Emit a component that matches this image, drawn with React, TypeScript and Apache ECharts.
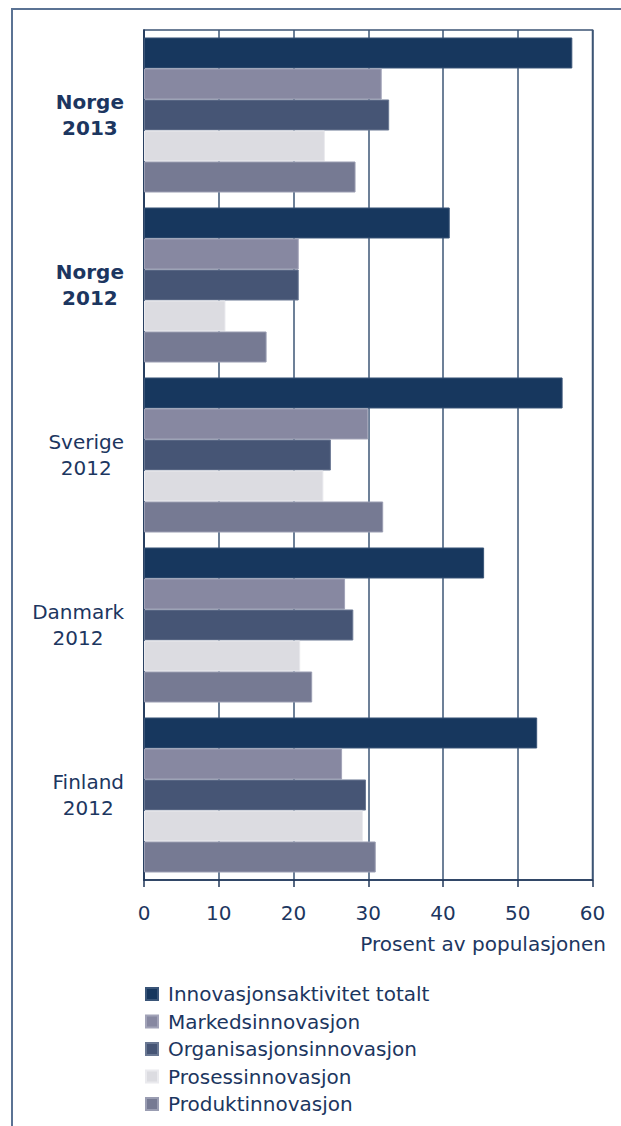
import React, { useEffect, useRef } from "react";
import * as echarts from "echarts";

const categories = ["Norge 2013", "Norge 2012", "Sverige 2012", "Danmark 2012", "Finland 2012"];
const seriesNames = [
  "Innovasjonsaktivitet totalt",
  "Markedsinnovasjon",
  "Organisasjonsinnovasjon",
  "Prosessinnovasjon",
  "Produktinnovasjon",
];
const totalt = [57.3, 40.9, 56.0, 45.5, 52.6];
const markeds = [31.8, 20.7, 30.0, 26.9, 26.5];
const organisasjon = [32.8, 20.7, 25.0, 28.0, 29.7];
const prosess = [24.2, 10.9, 24.0, 20.9, 29.3];
const produkt = [28.3, 16.4, 32.0, 22.5, 31.0];
const xTicks = [0, 10, 20, 30, 40, 50, 60];
const axisName = "Prosent av populasjonen";

const colors = ["#17375e", "#8788a1", "#465575", "#dcdce1", "#767a93"];
const borders = ["#3a5578", "#a2a3b8", "#6a7893", "#eaeaee", "#9a9db2"];
const textColor = "#1c3660";
const font = 'Verdana, "DejaVu Sans", sans-serif';

export default function App() {
  const ref = useRef<HTMLDivElement>(null);
  useEffect(() => {
    if (!ref.current) return;
    const chart = echarts.init(ref.current, null, { renderer: "svg" });
    const values = [totalt, markeds, organisasjon, prosess, produkt];
    chart.setOption({
      animation: false,
      textStyle: { fontFamily: font },
      grid: {
        left: 144,
        right: 28.5,
        top: 30,
        bottom: 246,
        show: true,
        borderColor: "#3d5474",
        borderWidth: 1.5,
        backgroundColor: "transparent",
      },
      legend: {
        orient: "vertical",
        left: 140,
        top: 979,
        icon: "rect",
        itemWidth: 12,
        itemHeight: 12,
        itemGap: 7.5,
        data: seriesNames,
        textStyle: {
          color: textColor,
          fontSize: 20,
          fontFamily: font,
          padding: [0, 0, 0, 5],
        },
        selectedMode: false,
      },
      xAxis: {
        type: "value",
        min: xTicks[0],
        max: xTicks[xTicks.length - 1],
        interval: 10,
        axisLine: { show: true, lineStyle: { color: "#1f3658", width: 1.5 } },
        axisTick: { show: true, length: 7, lineStyle: { color: "#1f3658", width: 1.5 } },
        axisLabel: { color: textColor, fontSize: 20, margin: 23, fontFamily: font },
        splitLine: { show: true, lineStyle: { color: "#3d5676", width: 1.5 } },
      },
      yAxis: {
        type: "category",
        inverse: true,
        data: categories,
        axisLine: { show: true, lineStyle: { color: "#1f3658", width: 1.5 } },
        axisTick: { show: false },
        axisLabel: {
          margin: 20,
          align: "right",
          formatter: (v: string) => {
            const [a, b] = v.split(" ");
            const style = a === "Norge" ? "b" : "n";
            return `{${style}|${a}}\n{${style}|${b}}`;
          },
          rich: {
            b: { fontWeight: "bold", fontSize: 20, color: textColor, lineHeight: 26, fontFamily: font, align: "center" },
            n: { fontWeight: "normal", fontSize: 20, color: textColor, lineHeight: 26, fontFamily: font, align: "center" },
          },
        },
      },
      series: seriesNames.map((name, i) => ({
        name,
        type: "bar",
        data: values[i],
        barGap: "0%",
        barCategoryGap: "8.82%",
        itemStyle: { color: colors[i], borderColor: borders[i], borderWidth: 1 },
        emphasis: { disabled: true },
      })),
      graphic: [
        {
          type: "polyline",
          shape: { points: [[12, 1130], [12, 9], [640, 9]] },
          style: { stroke: "#5b7394", lineWidth: 2, fill: "none" },
          silent: true,
        },
        {
          type: "text",
          right: 15,
          top: 934,
          style: { text: axisName, fill: textColor, fontSize: 20, fontFamily: font },
          silent: true,
        },
      ],
    });
    return () => chart.dispose();
  }, []);
  return (
    <div
      ref={ref}
      style={{ position: "fixed", left: 0, top: 0, width: 621, height: 1126, background: "#fff" }}
    />
  );
}
